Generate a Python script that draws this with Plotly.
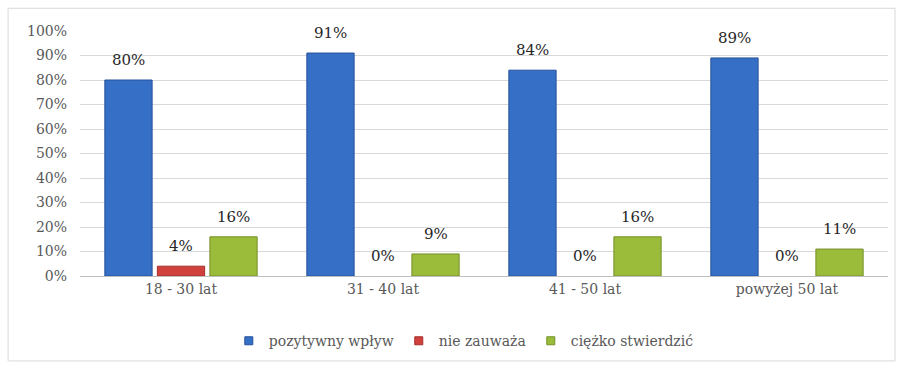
import plotly.graph_objects as go

categories = ["18 - 30 lat", "31 - 40 lat", "41 - 50 lat", "powyżej 50 lat"]
series_names = ["pozytywny wpływ", "nie zauważa", "ciężko stwierdzić"]
pozytywny = [0.80, 0.91, 0.84, 0.89]
nie_zauwaza = [0.04, 0.00, 0.00, 0.00]
ciezko = [0.16, 0.09, 0.16, 0.11]
y_ticks = [0, 0.1, 0.2, 0.3, 0.4, 0.5, 0.6, 0.7, 0.8, 0.9, 1.0]

SERIF = "DejaVu Serif"
colors = ["#3570c6", "#d0413e", "#9bbb3a"]
edge = ["#24509a", "#a32f2c", "#76912a"]
series = [pozytywny, nie_zauwaza, ciezko]

fig = go.Figure()
for name, vals, c, e in zip(series_names, series, colors, edge):
    fig.add_trace(go.Bar(
        x=categories, y=vals, name=name, showlegend=False,
        marker=dict(color=c, line=dict(color=e, width=[1 if v > 0 else 0 for v in vals])),
    ))
# legend entries with small square symbols
for name, c, e in zip(series_names, colors, edge):
    fig.add_trace(go.Scatter(
        x=[None], y=[None], mode="markers", name=name,
        marker=dict(symbol="square", size=8, color=c, line=dict(color=e, width=1)),
    ))

annotations = []
slot = 0.26
for j, vals in enumerate(series):
    for i, v in enumerate(vals):
        annotations.append(dict(
            x=i + (j - 1) * slot, y=v, xref="x", yref="y",
            text=f"{round(v*100)}%", showarrow=False,
            yanchor="middle", yshift=20,
            font=dict(family=SERIF, size=15, color="#262626"),
        ))

fig.update_layout(
    width=900, height=369,
    margin=dict(l=80, r=12, t=31, b=90),
    paper_bgcolor="white", plot_bgcolor="white",
    barmode="group", bargap=0.22, bargroupgap=0.1,
    font=dict(family=SERIF, size=14, color="#595959"),
    showlegend=True,
    legend=dict(orientation="h", x=0.475, xanchor="center", y=-0.266, yanchor="middle",
                font=dict(family=SERIF, size=14, color="#595959"),
                itemwidth=30, traceorder="normal"),
    annotations=annotations,
    shapes=[dict(type="rect", xref="paper", yref="paper",
                 x0=-0.089, x1=1.0087, y0=-0.3468, y1=1.0927,
                 line=dict(color="#d9d9d9", width=1), layer="below")],
)
fig.update_xaxes(showline=True, linecolor="#bfbfbf", linewidth=1,
                 tickfont=dict(family=SERIF, size=14, color="#595959"),
                 ticks="", fixedrange=True)
fig.update_yaxes(range=[0, 1.0], tickvals=y_ticks, tickformat=".0%",
                 showgrid=True, gridcolor="#d9d9d9", gridwidth=1,
                 zeroline=False, ticklabelstandoff=12,
                 tickfont=dict(family=SERIF, size=14, color="#595959"))

fig.write_html("out.html")
